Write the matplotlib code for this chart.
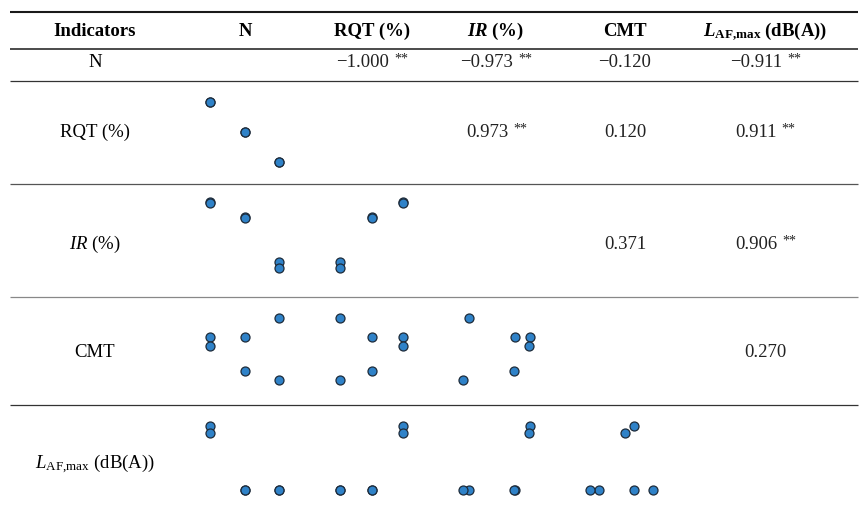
import matplotlib.pyplot as plt

plt.rcParams['font.family'] = ['Liberation Serif', 'DejaVu Serif']
plt.rcParams['mathtext.fontset'] = 'custom'
plt.rcParams['mathtext.rm'] = 'Liberation Serif'
plt.rcParams['mathtext.it'] = 'Liberation Serif:italic'
plt.rcParams['mathtext.bf'] = 'Liberation Serif:bold'
plt.rcParams['mathtext.bfit'] = 'Liberation Serif:italic:bold'

# samples (one entry per test case)
N = [1, 1, 2, 2, 3, 3]
RQT = [75.0, 75.0, 50.0, 50.0, 25.0, 25.0]
IR = [60.0, 59.9, 57.0, 56.8, 48.1, 47.0]
CMT = [3.43, 3.34, 3.43, 3.09, 3.62, 3.00]
LAF = [75.0, 74.0, 66.0, 66.0, 66.0, 66.0]

headers = ['Indicators', 'N', 'RQT (%)', r'$\mathbfit{IR}$ (%)', 'CMT',
           r'$\mathbfit{L}_{\mathbf{AF{,}max}}$ (dB(A))']
row_labels = ['N', 'RQT (%)', r'$\mathit{IR}$ (%)', 'CMT',
              r'$\mathit{L}_{\mathrm{AF{,}max}}$ (dB(A))']

# upper triangle: correlation coefficient and significance (** p < 0.01)
r_N = [-1.000, -0.973, -0.120, -0.911]
sig_N = [True, True, False, True]
r_RQT = [0.973, 0.120, 0.911]
sig_RQT = [True, False, True]
r_IR = [0.371, 0.906]
sig_IR = [False, True]
r_CMT = [0.270]
sig_CMT = [False]

W, H = 860, 511
fig = plt.figure(figsize=(W / 100, H / 100), dpi=100)
ax = fig.add_axes([0, 0, 1, 1])
ax.set_xlim(0, W)
ax.set_ylim(H, 0)
ax.axis('off')

# table rules
for y, lw, col in [(12, 1.5, '#1a1a1a'), (49, 1.1, '#1a1a1a'), (81, 0.9, '#333333'),
                   (184, 0.9, '#555555'), (297, 0.9, '#888888'), (405, 0.9, '#333333')]:
    ax.plot([10, 858], [y, y], color=col, lw=lw, solid_capstyle='butt')

col_x = [95, 245, 372, 496, 625, 765]
row_base = [67, 137, 249, 357, 468]
fs = 13.5

for x, h in zip(col_x, headers):
    ax.text(x, 36, h, ha='center', va='baseline', fontsize=fs, fontweight='bold')

for y, lab in zip(row_base, row_labels):
    ax.text(col_x[0], y, lab, ha='center', va='baseline', fontsize=fs)

upper = [(r_N, sig_N), (r_RQT, sig_RQT), (r_IR, sig_IR), (r_CMT, sig_CMT)]
for i, (vals, sigs) in enumerate(upper):
    for k, (v, s) in enumerate(zip(vals, sigs)):
        j = i + 1 + k
        label = f'{v:.3f}'.replace('-', '\u2212')
        x = col_x[j + 1] - (9 if s else 0)
        t = ax.text(x, row_base[i], label, ha='center', va='baseline',
                    fontsize=fs, color='#222222')
        if s:
            ax.annotate('**', xy=(1, 1), xycoords=t, xytext=(3.5, 1),
                        textcoords='offset points', ha='left', va='top',
                        fontsize=10, color='#222222')

# lower triangle: small scatter panels
variables = [N, RQT, IR, CMT, LAF]
col_px = [(210, 279), (340, 403), (463, 530), (590, 653)]
row_px = [None, (102, 162), (202, 268), (318, 380), (426, 490)]
for i in range(1, 5):
    for j in range(i):
        x0, x1 = col_px[j]
        y0, y1 = row_px[i]
        a = fig.add_axes([x0 / W, 1 - y1 / H, (x1 - x0) / W, (y1 - y0) / H])
        a.scatter(variables[j], variables[i], s=42, c='#2f82c8',
                  edgecolors='#1d2b3a', linewidths=0.9, clip_on=False, zorder=3)
        a.set_xlim(min(variables[j]), max(variables[j]))
        a.set_ylim(min(variables[i]), max(variables[i]))
        a.axis('off')

fig.savefig('out.png', dpi=100)
